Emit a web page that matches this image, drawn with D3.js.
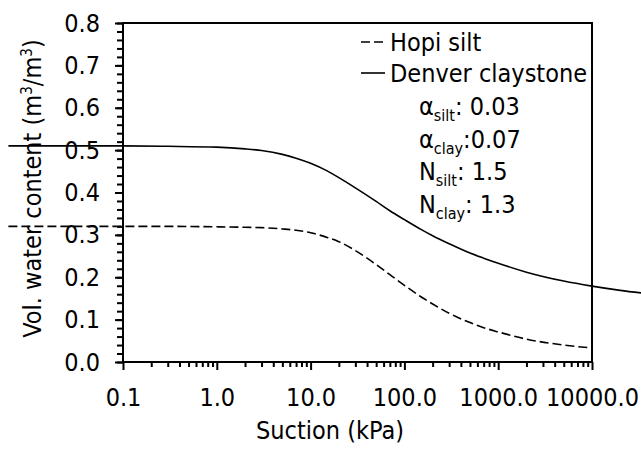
<!DOCTYPE html>
<html>
<head>
<meta charset="utf-8">
<script src="https://cdn.jsdelivr.net/npm/d3@7"></script>
<style>
  body { margin: 0; background: #fff; }
  svg text { font-family: "DejaVu Sans Condensed", "DejaVu Sans", sans-serif; font-stretch: condensed; fill: #000; }
</style>
</head>
<body>
<svg id="chart" width="641" height="449"></svg>
<script>
// suction (kPa) and water content for the two curves
const suction = [0.006, 0.1, 0.3, 1, 2, 3, 5, 7, 10, 15, 20, 30, 50, 70, 100, 150, 200, 300, 500, 700, 1000, 2000, 5000, 10000];
const hopiSilt = [0.32, 0.32, 0.32, 0.319, 0.318, 0.317, 0.314, 0.311, 0.305, 0.294, 0.284, 0.263, 0.23, 0.206,
  0.181, 0.154, 0.137, 0.115, 0.093, 0.081, 0.071, 0.054, 0.04, 0.033];
const claySuction = [0.006, 0.1, 0.3, 1, 2, 3, 5, 7, 10, 15, 20, 30, 50, 70, 100, 150, 200, 300, 500, 700, 1000, 2000, 5000, 10000, 20000, 40000];
const denverClay = [0.51, 0.51, 0.509, 0.507, 0.503, 0.499, 0.49, 0.481, 0.469, 0.451, 0.435, 0.411, 0.379, 0.357,
  0.336, 0.313, 0.298, 0.279, 0.257, 0.245, 0.233, 0.212, 0.191, 0.179, 0.169, 0.161];

const xTicks = [0.1, 1, 10, 100, 1000, 10000];
const xTickLabels = ['0.1', '1.0', '10.0', '100.0', '1000.0', '10000.0'];
const yTicks = [0, 0.1, 0.2, 0.3, 0.4, 0.5, 0.6, 0.7, 0.8];

const params = [
  ['α', 'silt', ': 0.03'],
  ['α', 'clay', ':0.07'],
  ['N', 'silt', ': 1.5'],
  ['N', 'clay', ': 1.3']
];

const fontSize = 25;
const svg = d3.select('#chart');
const plotLeft = 123, plotRight = 592, plotTop = 23, plotBottom = 362;

const x = d3.scaleLog().domain([0.1, 10000]).range([plotLeft, plotRight]);
const y = d3.scaleLinear().domain([0, 0.8]).range([plotBottom, plotTop]);

// minor ticks
const xMinor = [];
for (let e = -1; e < 4; e++) {
  for (let k = 2; k <= 9; k++) xMinor.push(k * Math.pow(10, e));
}
const yMinor = d3.range(0, 0.801, 0.02);

function styleAxis(g) {
  g.select('.domain').remove();
  g.selectAll('line').attr('stroke', '#000').attr('stroke-width', 2);
  g.selectAll('text').attr('font-size', fontSize).attr('font-family', null);
}

svg.append('g')
  .attr('transform', `translate(0,${plotBottom})`)
  .call(d3.axisBottom(x).tickValues(xMinor).tickSize(5).tickFormat(''))
  .call(styleAxis);

svg.append('g')
  .attr('transform', `translate(0,${plotBottom})`)
  .call(d3.axisBottom(x).tickValues(xTicks).tickSize(8).tickPadding(18)
    .tickFormat((d, i) => xTickLabels[i]))
  .call(styleAxis);

svg.append('g')
  .attr('transform', `translate(${plotLeft},0)`)
  .call(d3.axisLeft(y).tickValues(yMinor).tickSize(6).tickFormat(''))
  .call(styleAxis);

svg.append('g')
  .attr('transform', `translate(${plotLeft},0)`)
  .call(d3.axisLeft(y).tickValues(yTicks).tickSize(8).tickPadding(15)
    .tickFormat(d3.format('.1f')))
  .call(styleAxis);

// frame
svg.append('rect')
  .attr('x', plotLeft).attr('y', plotTop)
  .attr('width', plotRight - plotLeft).attr('height', plotBottom - plotTop)
  .attr('fill', 'none').attr('stroke', '#000').attr('stroke-width', 2);

const line = d3.line()
  .x(d => x(d[0]))
  .y(d => y(d[1]))
  .curve(d3.curveMonotoneX);

svg.append('path')
  .datum(suction.map((s, i) => [s, hopiSilt[i]]))
  .attr('d', line)
  .attr('fill', 'none')
  .attr('stroke', '#000')
  .attr('stroke-width', 1.6)
  .attr('stroke-dasharray', '9,4');

svg.append('path')
  .datum(claySuction.map((s, i) => [s, denverClay[i]]))
  .attr('d', line)
  .attr('fill', 'none')
  .attr('stroke', '#000')
  .attr('stroke-width', 1.6);

// axis titles
svg.append('text')
  .attr('x', 330)
  .attr('y', 439)
  .attr('text-anchor', 'middle')
  .attr('font-size', fontSize)
  .text('Suction (kPa)');

const yl = svg.append('text')
  .attr('transform', `translate(41,${(plotTop + plotBottom) / 2 - 4}) rotate(-90)`)
  .attr('text-anchor', 'middle')
  .attr('font-size', fontSize);
yl.append('tspan').text('Vol. water content (m');
yl.append('tspan').attr('font-size', 15).attr('dy', -9).text('3');
yl.append('tspan').attr('dy', 9).text('/m');
yl.append('tspan').attr('font-size', 15).attr('dy', -9).text('3');
yl.append('tspan').attr('dy', 9).text(')');

// legend
const legend = svg.append('g');
legend.append('line')
  .attr('x1', 361).attr('x2', 384).attr('y1', 42).attr('y2', 42)
  .attr('stroke', '#000').attr('stroke-width', 1.6).attr('stroke-dasharray', '9,4');
legend.append('text').attr('x', 390).attr('y', 51).attr('font-size', fontSize).text('Hopi silt');
legend.append('line')
  .attr('x1', 361).attr('x2', 385).attr('y1', 73).attr('y2', 73)
  .attr('stroke', '#000').attr('stroke-width', 1.6);
legend.append('text').attr('x', 390).attr('y', 82).attr('font-size', fontSize).text('Denver claystone');

params.forEach((p, i) => {
  const t = legend.append('text')
    .attr('x', 419)
    .attr('y', 115 + i * 32.7)
    .attr('font-size', fontSize);
  t.append('tspan').text(p[0]);
  t.append('tspan').attr('font-size', 16).attr('dy', 6).text(p[1]);
  t.append('tspan').attr('dy', -6).text(p[2]);
});
</script>
</body>
</html>
